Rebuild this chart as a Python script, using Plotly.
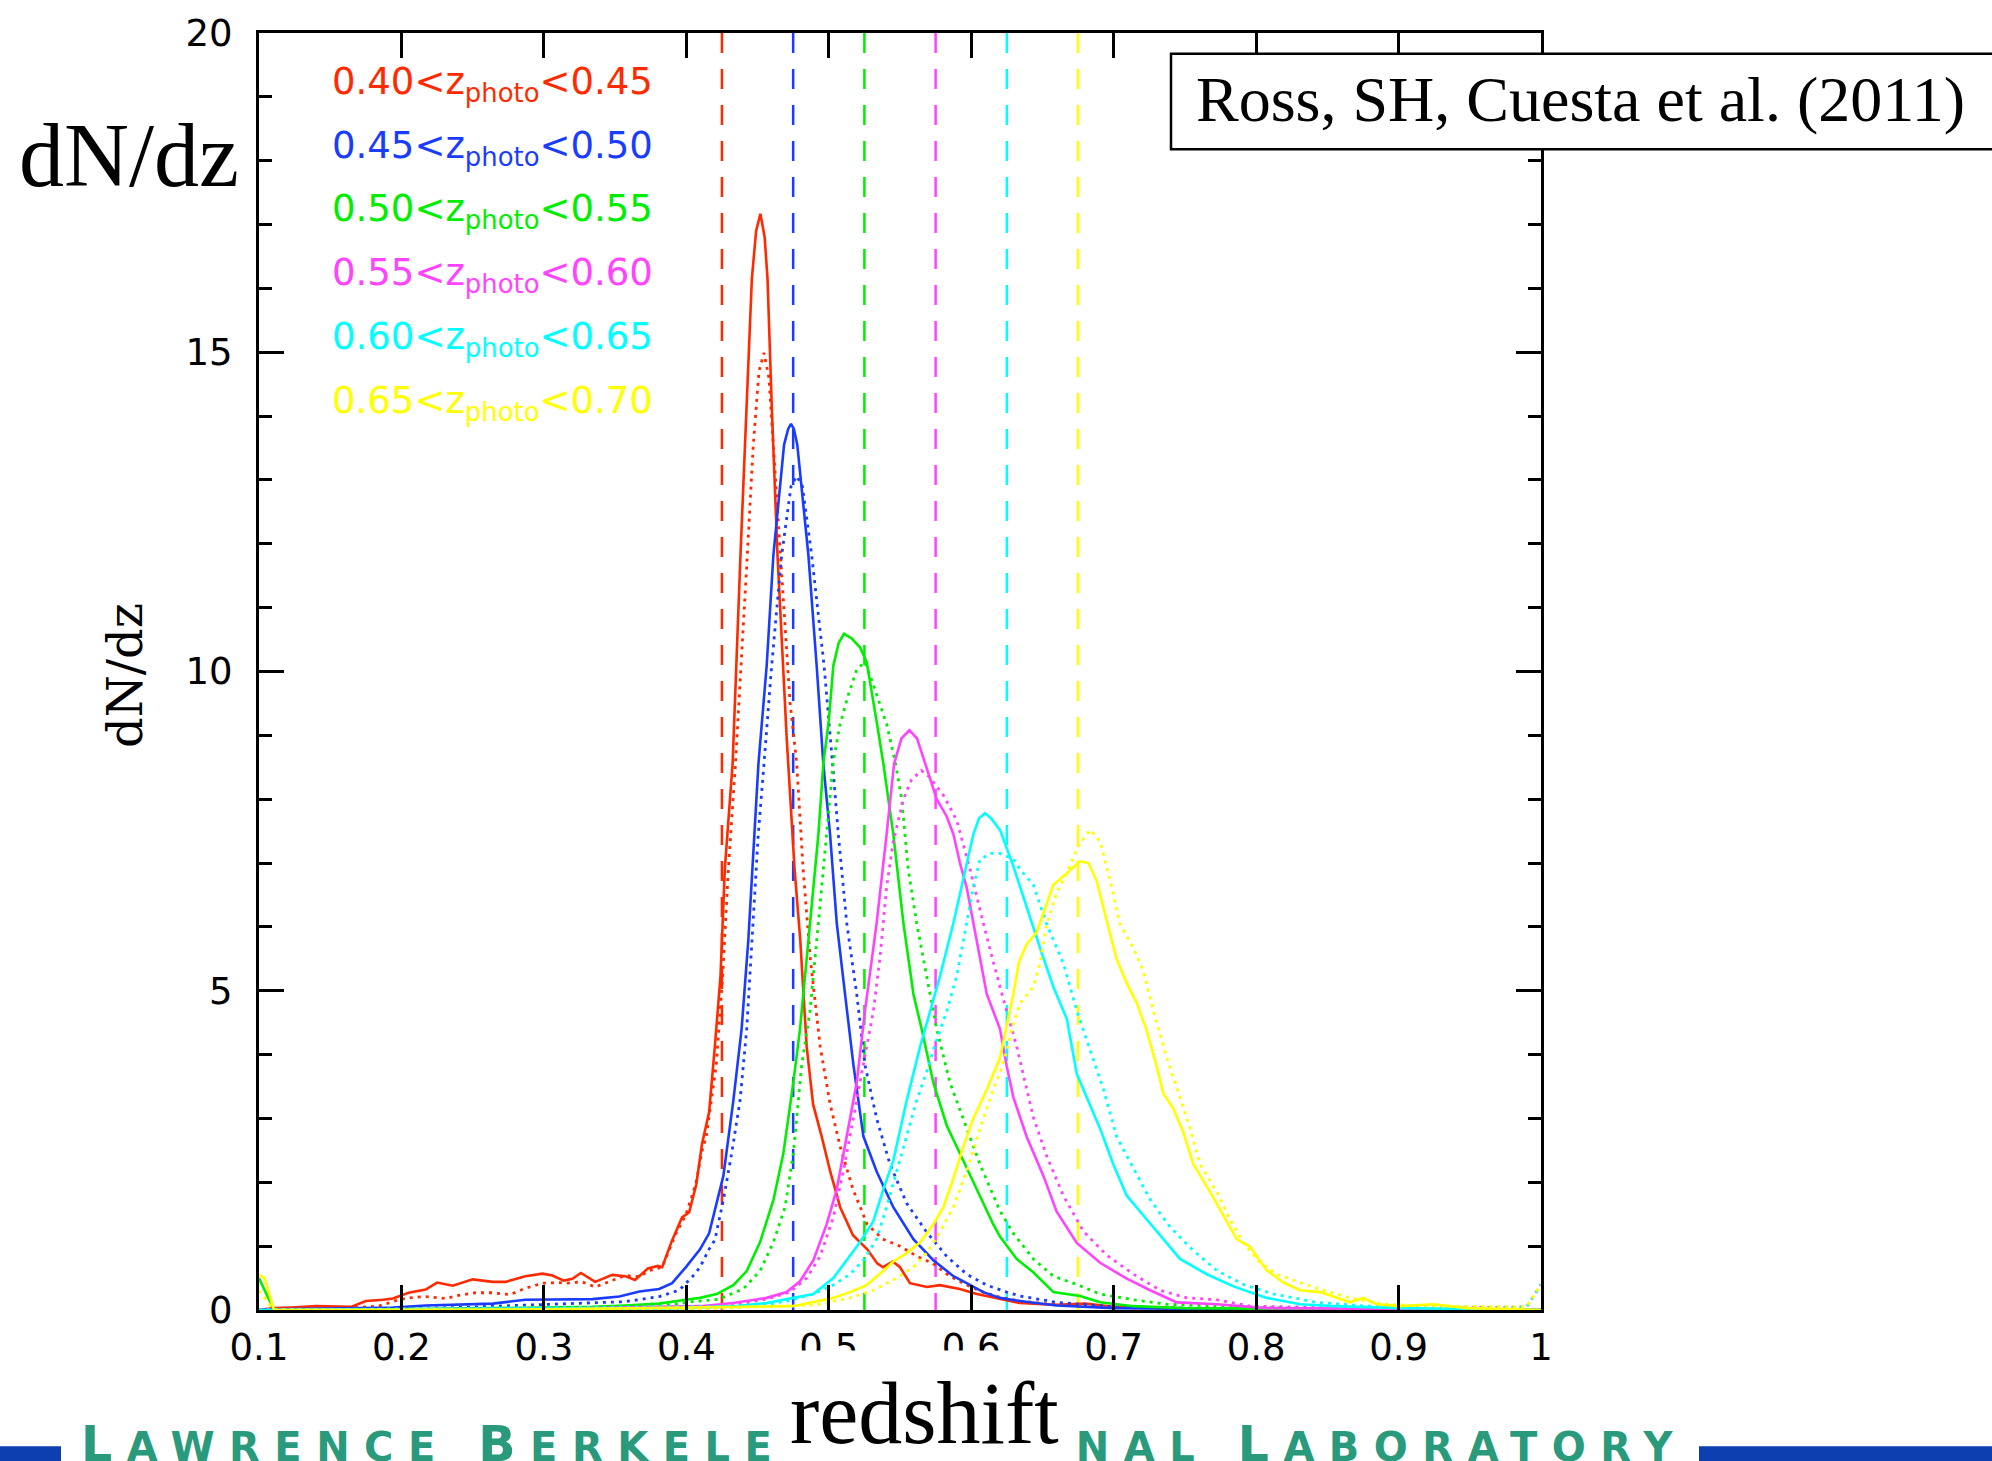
import plotly.graph_objects as go

# ---------------- data ----------------
bin_lo = ["0.40", "0.45", "0.50", "0.55", "0.60", "0.65"]
bin_hi = ["0.45", "0.50", "0.55", "0.60", "0.65", "0.70"]
bin_centers = [0.425, 0.475, 0.525, 0.575, 0.625, 0.675]
colors = ["#ff2a00", "#1a3cff", "#00ee00", "#ff44ff", "#00ffff", "#ffff00"]

x_tick_vals = [0.1, 0.2, 0.3, 0.4, 0.5, 0.6, 0.7, 0.8, 0.9, 1.0]
x_tick_text = ["0.1", "0.2", "0.3", "0.4", "0.5", "0.6", "0.7", "0.8", "0.9", "1"]

footer_words = ["Lawrence", "Berkeley", "National", "Laboratory"]

red_solid_x = [0.100, 0.110, 0.123, 0.140, 0.165, 0.175, 0.187, 0.194, 0.205, 0.217, 0.225, 0.236, 0.250, 0.264, 0.273,
               0.287, 0.299, 0.306, 0.314, 0.320, 0.326, 0.336, 0.348, 0.357, 0.364, 0.373, 0.380, 0.383, 0.390, 0.397,
               0.402, 0.407, 0.411, 0.416, 0.420, 0.424, 0.427, 0.4325, 0.438, 0.442, 0.446, 0.449, 0.452, 0.455, 0.457,
               0.460, 0.464, 0.4705, 0.476, 0.480, 0.4845, 0.489, 0.495, 0.501, 0.508, 0.517, 0.527, 0.534, 0.538, 0.545,
               0.550, 0.557, 0.569, 0.578, 0.592, 0.604, 0.620, 0.634, 0.660, 0.680, 0.700, 0.750, 0.850, 1.000]
red_solid_y = [0.00, 0.03, 0.04, 0.06, 0.05, 0.14, 0.16, 0.18, 0.27, 0.32, 0.43, 0.38, 0.48, 0.44, 0.44,
               0.53, 0.57, 0.54, 0.46, 0.49, 0.58, 0.44, 0.55, 0.53, 0.47, 0.65, 0.69, 0.67, 1.09, 1.45,
               1.53, 1.97, 2.60, 3.10, 4.12, 5.23, 6.90, 8.56, 11.82, 14.13, 16.15, 16.90, 17.17, 16.80, 16.15,
               14.13, 11.82, 8.94, 6.90, 5.79, 4.12, 3.22, 2.72, 2.17, 1.61, 1.17, 0.95, 0.73, 0.67, 0.76,
               0.67, 0.42, 0.36, 0.39, 0.33, 0.25, 0.17, 0.11, 0.08, 0.10, 0.05, 0.02, 0.01, 0.00]

red_dot_x = [0.100, 0.110, 0.147, 0.170, 0.184, 0.198, 0.205, 0.217, 0.231, 0.240, 0.252, 0.264, 0.276, 0.287, 0.299,
             0.311, 0.315, 0.327, 0.336, 0.348, 0.357, 0.367, 0.374, 0.383, 0.3925, 0.3995, 0.4066, 0.411, 0.414, 0.421,
             0.4255, 0.4295, 0.4345, 0.4428, 0.447, 0.451, 0.4545, 0.458, 0.461, 0.4658, 0.4728, 0.4775, 0.482, 0.487,
             0.494, 0.501, 0.508, 0.517, 0.527, 0.538, 0.550, 0.562, 0.573, 0.585, 0.597, 0.6085, 0.620, 0.634, 0.660,
             0.700, 0.800, 1.000]
red_dot_y = [0.00, 0.01, 0.03, 0.04, 0.06, 0.16, 0.19, 0.21, 0.18, 0.23, 0.27, 0.27, 0.24, 0.34, 0.42,
             0.43, 0.42, 0.44, 0.36, 0.47, 0.54, 0.52, 0.62, 0.67, 1.19, 1.48, 1.97, 2.49, 2.72, 3.84,
             5.23, 6.90, 8.56, 11.82, 13.55, 14.70, 14.99, 14.60, 13.55, 11.82, 9.52, 8.56, 6.90, 5.51,
             4.12, 3.22, 2.56, 1.89, 1.34, 1.11, 1.00, 0.84, 0.73, 0.53, 0.39, 0.28, 0.20, 0.14, 0.08,
             0.04, 0.01, 0.00]

blue_solid_x = [0.100, 0.110, 0.170, 0.194, 0.217, 0.240, 0.264, 0.287, 0.311, 0.334, 0.353, 0.367, 0.381, 0.390, 0.400,
                0.4096, 0.416, 0.4206, 0.426, 0.433, 0.4388, 0.4435, 0.4475, 0.4506, 0.4564, 0.4611, 0.4686, 0.4715,
                0.4735, 0.4755, 0.4779, 0.4857, 0.4915, 0.4962, 0.5009, 0.5056, 0.5114, 0.5173, 0.5243, 0.5336, 0.5453,
                0.5594, 0.5734, 0.5875, 0.5968, 0.6085, 0.6202, 0.6343, 0.660, 0.700, 0.800, 1.000]
blue_solid_y = [0.00, 0.01, 0.03, 0.04, 0.07, 0.09, 0.10, 0.16, 0.17, 0.17, 0.21, 0.29, 0.33, 0.42, 0.68,
                0.95, 1.20, 1.60, 2.10, 3.28, 4.40, 5.79, 7.45, 8.55, 10.09, 11.82, 13.55, 13.80,
                13.88, 13.80, 13.55, 11.82, 10.09, 8.55, 7.45, 6.06, 4.95, 3.84, 2.72, 2.17, 1.61,
                1.11, 0.78, 0.53, 0.42, 0.28, 0.19, 0.14, 0.07, 0.03, 0.01, 0.00]

blue_dot_x = [0.100, 0.200, 0.240, 0.287, 0.311, 0.334, 0.357, 0.381, 0.395, 0.4042, 0.4096, 0.4159, 0.4201, 0.4229,
              0.426, 0.4318, 0.4377, 0.4424, 0.447, 0.4505, 0.4545, 0.4599, 0.4669, 0.4735, 0.4775, 0.4815, 0.488,
              0.4967, 0.5027, 0.5067, 0.5126, 0.5196, 0.5254, 0.5336, 0.543, 0.5547, 0.5687, 0.5828, 0.5968, 0.6109,
              0.6249, 0.6343, 0.660, 0.700, 0.800, 1.000]
blue_dot_y = [0.00, 0.02, 0.04, 0.08, 0.09, 0.11, 0.13, 0.21, 0.31, 0.52, 0.67, 0.95, 1.10, 1.40,
              1.72, 2.45, 3.28, 4.40, 6.06, 7.45, 8.55, 10.09, 11.82, 12.90, 13.06, 12.90, 11.82,
              10.09, 8.55, 7.45, 6.06, 4.95, 3.84, 3.00, 2.28, 1.67, 1.22, 0.84, 0.56, 0.39,
              0.28, 0.22, 0.12, 0.05, 0.01, 0.00]

green_solid_x = [0.100, 0.1105, 0.200, 0.287, 0.334, 0.357, 0.381, 0.3995, 0.4096, 0.4213, 0.433, 0.4424, 0.4517,
                 0.4611, 0.4681, 0.4751, 0.4798, 0.4857, 0.4927, 0.4962, 0.5000, 0.5032, 0.507, 0.5107, 0.516, 0.5219,
                 0.5266, 0.5335, 0.5383, 0.5453, 0.5524, 0.5594, 0.5652, 0.5734, 0.5828, 0.5921, 0.6038, 0.6155,
                 0.6202, 0.6272, 0.6319, 0.6436, 0.6577, 0.6764, 0.6905, 0.7139, 0.750, 0.850, 1.000]
green_solid_y = [0.50, 0.00, 0.01, 0.03, 0.05, 0.07, 0.10, 0.16, 0.19, 0.25, 0.39, 0.61, 1.06,
                 1.72, 2.45, 3.56, 4.40, 5.79, 7.45, 8.56, 9.23, 10.09, 10.45, 10.59, 10.52, 10.38,
                 10.15, 9.23, 8.56, 7.45, 6.06, 4.95, 4.40, 3.56, 2.89, 2.45, 1.89, 1.34,
                 1.15, 0.95, 0.80, 0.59, 0.28, 0.22, 0.12, 0.06, 0.03, 0.01, 0.00]

green_dot_x = [0.100, 0.300, 0.381, 0.4042, 0.4229, 0.4283, 0.4400, 0.4517, 0.4611, 0.4693, 0.4751, 0.481, 0.4868,
               0.4927, 0.4985, 0.5032, 0.5079, 0.5137, 0.5196, 0.5254, 0.5312, 0.5407, 0.5465, 0.5512, 0.5558, 0.5617,
               0.5687, 0.5758, 0.5851, 0.5945, 0.6062, 0.6202, 0.6296, 0.6436, 0.6577, 0.6741, 0.6905, 0.7139, 0.7373,
               0.800, 0.900, 1.000]
green_dot_y = [0.00, 0.02, 0.06, 0.13, 0.17, 0.22, 0.33, 0.61, 1.06, 1.61, 2.45, 3.84, 4.68,
               6.06, 7.45, 8.60, 9.17, 9.63, 10.03, 10.15, 9.80, 9.17, 8.60, 8.00, 6.90, 6.06,
               5.23, 4.40, 3.56, 3.00, 2.28, 1.55, 1.20, 0.80, 0.53, 0.40, 0.25, 0.16, 0.09,
               0.04, 0.01, 0.00]

magenta_solid_x = [0.100, 0.300, 0.410, 0.433, 0.4564, 0.4704, 0.4798, 0.4892, 0.4985, 0.5056, 0.5126, 0.5196, 0.5254,
                   0.5336, 0.5406, 0.5458, 0.551, 0.5566, 0.562, 0.5676, 0.5758, 0.5828, 0.5875, 0.5921, 0.5968,
                   0.6038, 0.6109, 0.6202, 0.6249, 0.6296, 0.639, 0.6507, 0.660, 0.6741, 0.6905, 0.7092, 0.7256,
                   0.7443, 0.7724, 0.8075, 0.900, 1.000]
magenta_solid_y = [0.00, 0.02, 0.06, 0.11, 0.19, 0.28, 0.45, 0.78, 1.34, 1.89, 2.72, 3.56, 4.68,
                   6.06, 7.45, 8.55, 8.95, 9.08, 8.95, 8.56, 8.00, 7.73, 7.45, 7.00, 6.62,
                   5.79, 4.95, 4.40, 3.82, 3.33, 2.71, 2.10, 1.54, 1.05, 0.74, 0.49, 0.31,
                   0.12, 0.09, 0.03, 0.01, 0.00]

magenta_dot_x = [0.100, 0.400, 0.433, 0.4564, 0.4728, 0.4845, 0.4939, 0.5032, 0.5102, 0.5173, 0.5243, 0.5313, 0.5359,
                 0.5406, 0.5453, 0.5524, 0.558, 0.565, 0.5711, 0.5805, 0.5898, 0.5992, 0.6085, 0.6155, 0.6249, 0.632,
                 0.6436, 0.653, 0.6647, 0.6788, 0.6951, 0.7139, 0.7326, 0.7513, 0.7724, 0.7958, 0.900, 0.990, 1.000]
magenta_dot_y = [0.00, 0.03, 0.08, 0.17, 0.28, 0.50, 0.84, 1.45, 2.17, 3.00, 3.84, 4.68, 5.51,
                 6.62, 7.34, 8.00, 8.30, 8.45, 8.34, 8.06, 7.67, 6.90, 6.06, 5.45, 4.68, 4.12,
                 3.02, 2.41, 1.79, 1.23, 0.86, 0.56, 0.31, 0.19, 0.16, 0.06, 0.02, 0.05, 0.40]

cyan_solid_x = [0.100, 0.400, 0.433, 0.4564, 0.4751, 0.4892, 0.5032, 0.5126, 0.5219, 0.5313, 0.5383, 0.5453, 0.5547,
                0.5641, 0.5711, 0.5781, 0.5875, 0.5945, 0.6015, 0.6055, 0.6097, 0.614, 0.6202, 0.6296, 0.639, 0.6483,
                0.6577, 0.6671, 0.6741, 0.6811, 0.6905, 0.6998, 0.7092, 0.7209, 0.7326, 0.7466, 0.7654, 0.7841,
                0.8075, 0.8309, 0.8543, 0.9011, 1.000]
cyan_solid_y = [0.00, 0.03, 0.06, 0.11, 0.19, 0.25, 0.50, 0.78, 1.06, 1.39, 1.89, 2.34, 3.28,
                4.12, 4.68, 5.23, 6.06, 6.73, 7.45, 7.70, 7.78, 7.70, 7.52, 6.95, 6.29, 5.67,
                5.06, 4.56, 3.70, 3.33, 2.84, 2.28, 1.79, 1.48, 1.17, 0.80, 0.56, 0.37,
                0.19, 0.09, 0.06, 0.03, 0.00]

cyan_dot_x = [0.100, 0.450, 0.4704, 0.4892, 0.5032, 0.5149, 0.5243, 0.5336, 0.5406, 0.5477, 0.5547, 0.5617, 0.5687,
              0.5758, 0.5828, 0.5898, 0.5968, 0.6015, 0.6062, 0.614, 0.6202, 0.6296, 0.6343, 0.6436, 0.653, 0.6647,
              0.6741, 0.6834, 0.6928, 0.7022, 0.7139, 0.7256, 0.7396, 0.756, 0.7724, 0.7911, 0.8122, 0.8426, 0.8777,
              0.950, 0.990, 1.000]
cyan_dot_y = [0.00, 0.06, 0.14, 0.25, 0.39, 0.56, 0.78, 1.11, 1.61, 2.17, 2.72, 3.28, 3.73,
              4.23, 4.68, 5.23, 6.06, 6.62, 7.06, 7.15, 7.15, 7.06, 6.90, 6.66, 6.04, 5.43,
              4.69, 4.07, 3.46, 2.71, 2.22, 1.73, 1.30, 0.93, 0.62, 0.40, 0.25, 0.12, 0.06,
              0.02, 0.05, 0.40]

yellow_solid_x = [0.100, 0.104, 0.1105, 0.300, 0.4751, 0.4868, 0.5032, 0.5149, 0.5266, 0.5383, 0.5453, 0.5547, 0.5641,
                  0.5734, 0.5805, 0.5875, 0.5945, 0.6015, 0.6109, 0.6202, 0.6249, 0.6296, 0.6335, 0.639, 0.646, 0.6507,
                  0.6577, 0.6671, 0.6764, 0.6823, 0.6881, 0.6951, 0.7022, 0.7092, 0.7162, 0.7232, 0.7302, 0.7349,
                  0.7420, 0.7490, 0.7560, 0.7677, 0.7771, 0.7864, 0.7958, 0.8075, 0.8192, 0.8309, 0.8449, 0.8660,
                  0.8753, 0.8847, 0.9011, 0.9245, 0.9479, 1.000]
yellow_solid_y = [0.55, 0.50, 0.00, 0.01, 0.06, 0.11, 0.19, 0.28, 0.39, 0.61, 0.76, 0.89, 1.06,
                  1.34, 1.61, 2.06, 2.56, 3.00, 3.45, 3.95, 4.45, 4.95, 5.45, 5.73, 5.92, 6.23,
                  6.66, 6.84, 7.03, 7.00, 6.72, 6.10, 5.49, 5.12, 4.81, 4.38, 3.82, 3.39,
                  3.15, 2.78, 2.28, 1.85, 1.48, 1.11, 0.99, 0.62, 0.43, 0.31, 0.28, 0.12,
                  0.19, 0.09, 0.06, 0.09, 0.03, 0.00]

yellow_dot_x = [0.100, 0.1105, 0.400, 0.4915, 0.5149, 0.5313, 0.5453, 0.5594, 0.5687, 0.5781, 0.5875, 0.5968, 0.6062,
                0.6155, 0.6202, 0.6249, 0.6290, 0.6343, 0.6436, 0.6483, 0.653, 0.660, 0.6671, 0.6753, 0.6834, 0.6905,
                0.6975, 0.7045, 0.7139, 0.7209, 0.7279, 0.7373, 0.7466, 0.7537, 0.7607, 0.7724, 0.7817, 0.7911,
                0.8028, 0.8145, 0.8309, 0.8426, 0.8660, 0.8894, 0.9245, 0.990, 1.000]
yellow_dot_y = [0.30, 0.00, 0.01, 0.08, 0.19, 0.31, 0.47, 0.67, 0.89, 1.22, 1.61, 2.17, 2.84,
                3.45, 3.72, 4.05, 4.45, 4.80, 5.06, 5.43, 6.04, 6.54, 6.84, 7.27, 7.52, 7.34,
                6.72, 6.04, 5.67, 5.30, 4.69, 3.95, 3.33, 2.84, 2.28, 1.85, 1.42, 1.05,
                0.74, 0.56, 0.43, 0.34, 0.19, 0.09, 0.06, 0.05, 0.40]

# ---------------- layout geometry (pixels) ----------------
W, H = 1992, 1461
PL, PR, PT, PB = 259, 1541, 25, 1310


def px(X):
    return (X - PL) / (PR - PL)


def py(Y):
    return (PB - Y) / (PB - PT)


series = [
    (red_solid_x, red_solid_y, red_dot_x, red_dot_y),
    (blue_solid_x, blue_solid_y, blue_dot_x, blue_dot_y),
    (green_solid_x, green_solid_y, green_dot_x, green_dot_y),
    (magenta_solid_x, magenta_solid_y, magenta_dot_x, magenta_dot_y),
    (cyan_solid_x, cyan_solid_y, cyan_dot_x, cyan_dot_y),
    (yellow_solid_x, yellow_solid_y, yellow_dot_x, yellow_dot_y),
]

fig = go.Figure()

# dashed bin-centre lines
for c, col in zip(bin_centers, colors):
    fig.add_trace(go.Scatter(x=[c, c], y=[20, 0], mode="lines",
                             line=dict(color=col, width=2.5, dash="20px,16px"),
                             hoverinfo="skip", showlegend=False))

for (sx, sy, dx, dy), col in zip(series, colors):
    fig.add_trace(go.Scatter(x=sx, y=sy, mode="lines", line=dict(color=col, width=2.6),
                             showlegend=False, hoverinfo="skip"))
    fig.add_trace(go.Scatter(x=dx, y=dy, mode="lines", line=dict(color=col, width=2.8, dash="3px,5px"),
                             showlegend=False, hoverinfo="skip"))

tickfont = dict(family="DejaVu Sans", size=37, color="black")

fig.update_layout(
    width=W, height=H,
    margin=dict(l=PL, r=W - PR, t=PT, b=H - PB, pad=0),
    paper_bgcolor="white", plot_bgcolor="white",
    showlegend=False,
    xaxis=dict(range=[0.1, 1.0], tickmode="array", tickvals=x_tick_vals, ticktext=x_tick_text,
               ticks="inside", ticklen=25, tickwidth=2.5, tickcolor="black",
               showline=True, linewidth=3, linecolor="black", mirror="ticks",
               showgrid=False, zeroline=False, tickfont=tickfont, ticklabelstandoff=3),
    yaxis=dict(range=[0, 20], tickmode="linear", tick0=0, dtick=5,
               ticks="inside", ticklen=25, tickwidth=2.5, tickcolor="black",
               minor=dict(dtick=1, tick0=0, ticks="inside", ticklen=13, tickwidth=2.5, tickcolor="black"),
               showline=True, linewidth=3, linecolor="black", mirror="ticks",
               showgrid=False, zeroline=False, tickfont=tickfont, ticklabelstandoff=16),
)

annotations = []
# legend text
for i, (lo, hi, col) in enumerate(zip(bin_lo, bin_hi, colors)):
    annotations.append(dict(
        xref="paper", yref="paper", x=px(330), y=py(76 + i * 64.3),
        xanchor="left", yanchor="middle", showarrow=False,
        text=f"{lo}&lt;z<sub>photo</sub>&lt;{hi}",
        font=dict(family="DejaVu Sans", size=37, color=col)))

# y-axis title
annotations.append(dict(xref="paper", yref="paper", x=px(125), y=py(672), textangle=-90,
                        xanchor="center", yanchor="middle", showarrow=False, text="dN/dz",
                        font=dict(family="DejaVu Serif", size=48, color="black")))
# big dN/dz
annotations.append(dict(xref="paper", yref="paper", x=px(129), y=py(148),
                        xanchor="center", yanchor="middle", showarrow=False, text="dN/dz",
                        font=dict(family="Liberation Serif", size=90, color="black")))
# citation text
annotations.append(dict(xref="paper", yref="paper", x=px(1580), y=py(92),
                        xanchor="center", yanchor="middle", showarrow=False,
                        text="Ross, SH, Cuesta et al. (2011)",
                        font=dict(family="Liberation Serif", size=64, color="black")))

# footer text (caps with larger initials, partly hidden behind the 'redshift' label)
span_big = "<span style='font-size:49px;letter-spacing:14.5px'>{}</span>"
span_small = "<span style='font-size:40px;letter-spacing:14.5px'>{}</span>"
footer_parts = []
for k, wd in enumerate(footer_words):
    tail = wd[1:].upper() + (" " if k < len(footer_words) - 1 else "")
    footer_parts.append(span_big.format(wd[0].upper()) + span_small.format(tail))
annotations.append(dict(xref="paper", yref="paper", x=px(79), y=py(1476),
                        xanchor="left", yanchor="bottom", showarrow=False,
                        text="".join(footer_parts),
                        font=dict(family="DejaVu Sans", size=40, color="#2a9a7c", weight="bold")))
# x title with white box
annotations.append(dict(xref="paper", yref="paper", x=px(924), y=py(1350),
                        xanchor="center", yanchor="top", showarrow=False, text="redshift",
                        bgcolor="white", borderpad=14,
                        font=dict(family="Liberation Serif", size=88, color="black")))

shapes = [
    dict(type="rect", xref="paper", yref="paper", x0=px(1171), x1=px(2010), y0=py(142), y1=py(46),
         line=dict(color="black", width=2.5), fillcolor="white", layer="above"),
    dict(type="rect", xref="paper", yref="paper", x0=px(-5), x1=px(61), y0=py(1447), y1=py(1480),
         line=dict(width=0), fillcolor="#0d3fb0", layer="above"),
    dict(type="rect", xref="paper", yref="paper", x0=px(1699), x1=px(2000), y0=py(1447), y1=py(1480),
         line=dict(width=0), fillcolor="#0d3fb0", layer="above"),
]

fig.update_layout(annotations=annotations, shapes=shapes)
fig.write_html("out.html")
